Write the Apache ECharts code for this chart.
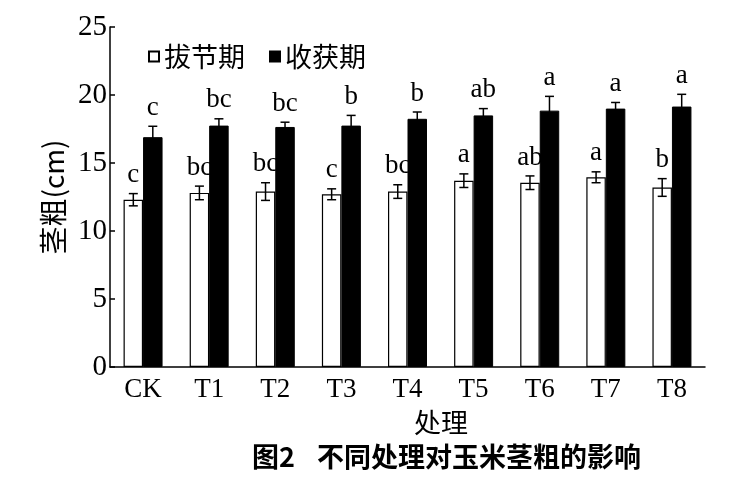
<!DOCTYPE html>
<html>
<head>
<meta charset="utf-8">
<script src="https://cdn.jsdelivr.net/npm/echarts@6/dist/echarts.min.js"></script>
<style>html,body{margin:0;padding:0;background:#fff;}#c{width:750px;height:500px;}</style>
</head>
<body>
<div id="c"></div>
<script>
var categories = ['CK', 'T1', 'T2', 'T3', 'T4', 'T5', 'T6', 'T7', 'T8'];
var jointing = [12.3, 12.8, 12.9, 12.7, 12.9, 13.7, 13.55, 13.95, 13.2];
var jointingErr = [0.45, 0.5, 0.65, 0.4, 0.5, 0.5, 0.5, 0.4, 0.65];
var jointingLetters = ['c', 'bc', 'bc', 'c', 'bc', 'a', 'ab', 'a', 'b'];
var harvest = [16.9, 17.75, 17.65, 17.75, 18.25, 18.5, 18.85, 19.0, 19.15];
var harvestErr = [0.8, 0.5, 0.35, 0.75, 0.5, 0.5, 1.05, 0.45, 0.9];
var harvestLetters = ['c', 'bc', 'bc', 'b', 'b', 'ab', 'a', 'a', 'a'];
var yTicks = [0, 5, 10, 15, 20, 25];

var BAR_W = 19.5;
var serif = '"Liberation Serif", "Times New Roman", serif';
var cjk = '"Noto Sans CJK SC", sans-serif';

function errData(vals, errs) {
  return vals.map(function (v, i) { return [i, v, errs[i]]; });
}
function errRender(offset, letters) {
  return function (params, api) {
    var i = api.value(0), v = api.value(1), e = api.value(2);
    var top = api.coord([i, v + e]);
    var bot = api.coord([i, v - e]);
    var cx = top[0] + offset;
    var hw = 4.5;
    var st = { stroke: '#000', lineWidth: 1.5 };
    return {
      type: 'group',
      children: [
        { type: 'line', shape: { x1: cx, y1: top[1], x2: cx, y2: bot[1] }, style: st },
        { type: 'line', shape: { x1: cx - hw, y1: top[1], x2: cx + hw, y2: top[1] }, style: st },
        { type: 'line', shape: { x1: cx - hw, y1: bot[1], x2: cx + hw, y2: bot[1] }, style: st },
        { type: 'text', style: { text: letters[i], x: cx, y: top[1] - 5, textAlign: 'center', textVerticalAlign: 'bottom', font: '27px ' + serif, fill: '#000' } }
      ]
    };
  };
}

var chart = echarts.init(document.getElementById('c'));
chart.setOption({
  backgroundColor: '#fff',
  animation: false,
  title: [
    { text: '处理', left: 436, top: 404, textAlign: 'center', textStyle: { fontFamily: cjk, fontSize: 27, fontWeight: 'normal', color: '#000' } },
    { text: '图2', left: 247, top: 438, textStyle: { fontFamily: cjk, fontSize: 27, fontWeight: 'bold', color: '#000' } },
    { text: '不同处理对玉米茎粗的影响', left: 312, top: 438, textStyle: { fontFamily: cjk, fontSize: 27, fontWeight: 'bold', color: '#000' } }
  ],
  legend: {
    data: ['拔节期', '收获期'],
    left: 143, top: 38,
    icon: 'rect', itemWidth: 10, itemHeight: 10, itemGap: 24,
    textStyle: { fontFamily: cjk, fontSize: 27, color: '#000' }
  },
  grid: { left: 110, right: 45, top: 27, bottom: 133 },
  xAxis: {
    type: 'category', data: categories,
    axisLine: { lineStyle: { color: '#000', width: 1.5 } },
    axisTick: { show: false },
    axisLabel: { fontFamily: serif, fontSize: 27, color: '#000', margin: 9 }
  },
  yAxis: {
    type: 'value', min: yTicks[0], max: yTicks[yTicks.length - 1], interval: 5,
    name: '茎粗(cm)', nameLocation: 'middle', nameGap: 36,
    nameTextStyle: { fontFamily: cjk, fontSize: 28, color: '#000' },
    axisLine: { show: true, lineStyle: { color: '#000', width: 1.5 } },
    axisTick: { show: true, inside: true, length: 5, lineStyle: { color: '#000', width: 1.5 } },
    axisLabel: { fontFamily: serif, fontSize: 29, color: '#000', margin: 3 },
    splitLine: { show: false }
  },
  series: [
    { name: '拔节期', type: 'bar', data: jointing, barWidth: BAR_W, barGap: '0%',
      itemStyle: { color: '#fff', borderColor: '#000', borderWidth: 1.2 } },
    { name: '收获期', type: 'bar', data: harvest, barWidth: BAR_W, barGap: '0%',
      itemStyle: { color: '#000', borderColor: '#000', borderWidth: 1 } },
    { name: 'errJ', type: 'custom', data: errData(jointing, jointingErr), renderItem: errRender(-BAR_W / 2, jointingLetters), z: 5 },
    { name: 'errH', type: 'custom', data: errData(harvest, harvestErr), renderItem: errRender(BAR_W / 2, harvestLetters), z: 5 }
  ]
});
</script>
</body>
</html>
